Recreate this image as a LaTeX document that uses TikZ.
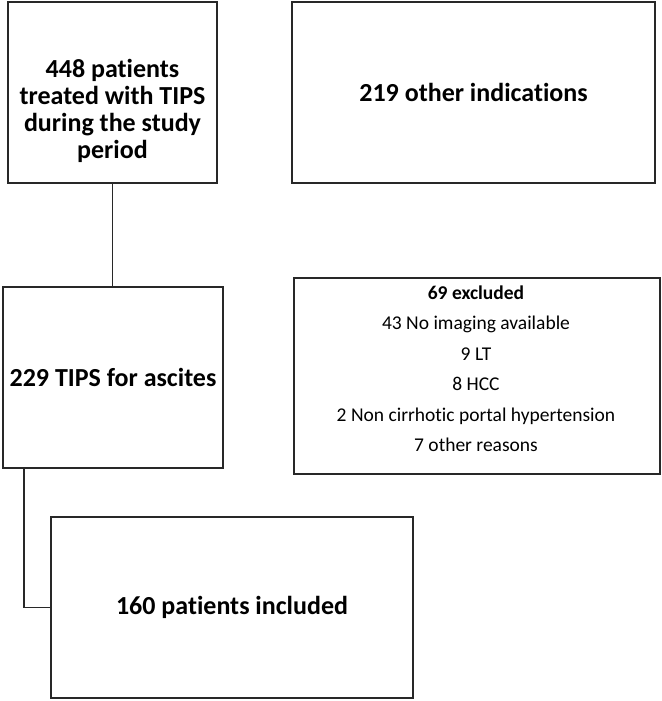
\documentclass[tikz,border=0pt]{standalone}
\usepackage{fontspec}
\setmainfont{Carlito}[Ligatures=NoCommon]
\definecolor{boxline}{RGB}{40, 40, 40}
\usepackage{tikz}
\usetikzlibrary{positioning, calc}

\begin{document}
\begin{tikzpicture}[x=1pt, y=-1pt,
  flowbox/.style={draw=boxline, line width=1.6pt, inner sep=0pt},
  bigtxt/.style={font=\fontsize{26}{27}\selectfont\bfseries, align=center, inner sep=0pt},
  smalltxt/.style={font=\fontsize{19.5}{30.5}\selectfont, align=center, inner sep=0pt}]
  \useasboundingbox (0,0) rectangle (661,701);

  % Top row
  \node[flowbox, minimum width=209pt, minimum height=181pt] (total) at (112.5, 92.5) {};
  \node[bigtxt] (totaltxt) at (112.5, 111) {448 patients\\treated with TIPS\\during the study\\period};
  \node[flowbox, minimum width=363pt, minimum height=181pt] (other) at (473.5, 92.5)
    {\fontsize{26}{27}\selectfont\bfseries 219 other indications};

  % Middle row
  \node[flowbox, minimum width=220pt, minimum height=181pt] (tips) at (113, 377.5)
    {\fontsize{26}{27}\selectfont\bfseries 229 TIPS for ascites};
  \node[flowbox, minimum width=366pt, minimum height=196pt] (excl) at (477, 376) {};
  \node[smalltxt] (excltxt) at (476, 368.5) {\textbf{69 excluded}\\43 No imaging available\\9 LT\\8 HCC\\2 Non cirrhotic portal hypertension\\7 other reasons};

  % Bottom row
  \node[flowbox, minimum width=362pt, minimum height=181pt] (incl) at (232, 607.5)
    {\fontsize{26}{27}\selectfont\bfseries 160 patients included};

  % Connectors
  \draw[boxline, line width=1.6pt] (total.south) -- (total.south |- tips.north);
  \draw[boxline, line width=1.6pt] ($(tips.south west)+(22,0)$) |- (incl.west);
\end{tikzpicture}
\end{document}
